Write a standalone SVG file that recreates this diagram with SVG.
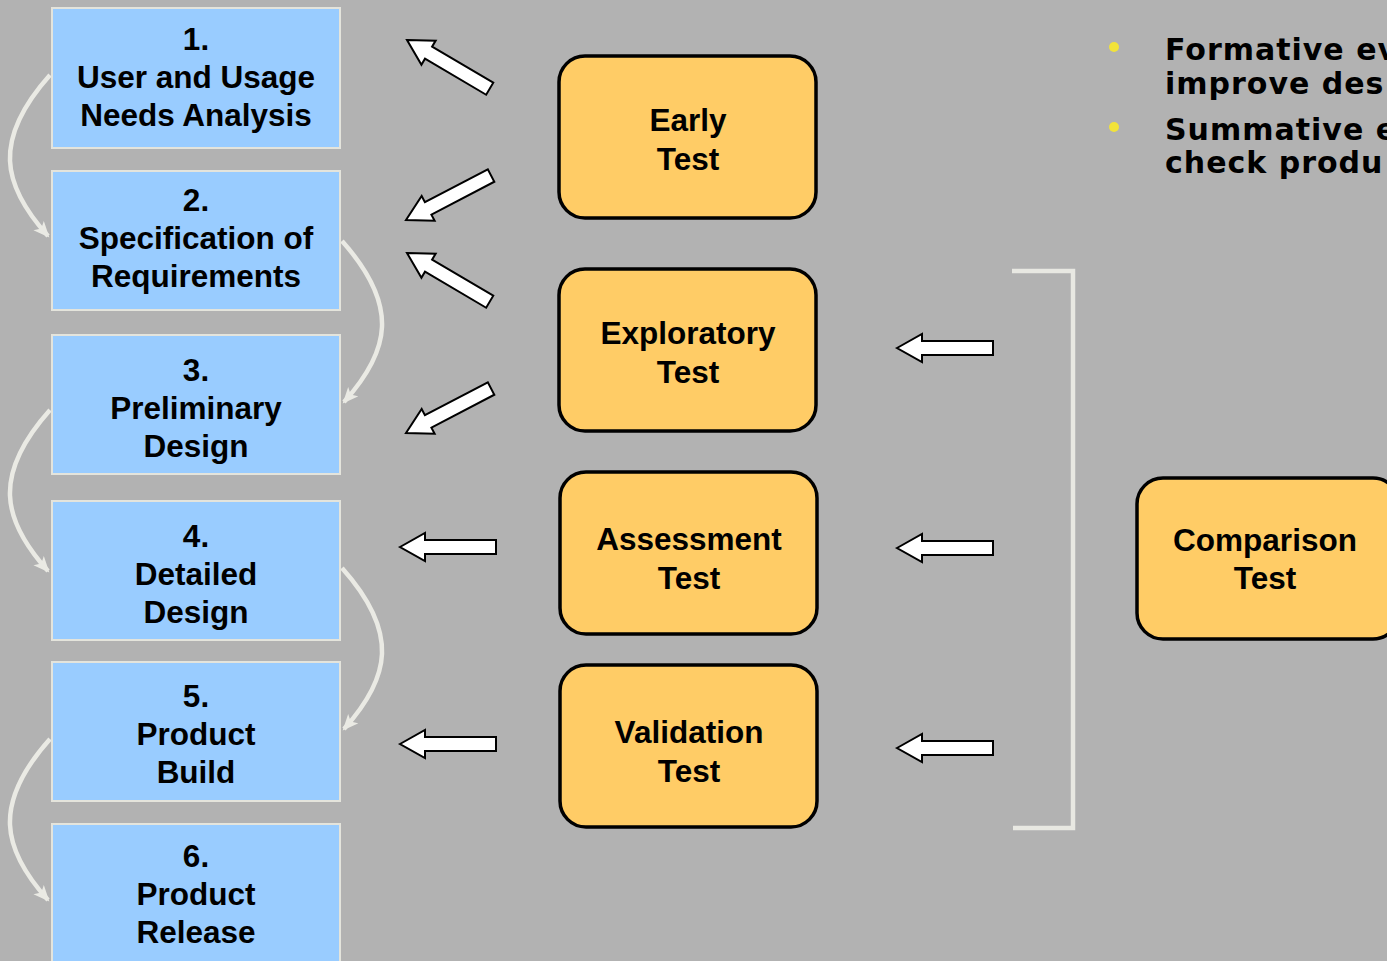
<svg xmlns="http://www.w3.org/2000/svg" width="1387" height="961" viewBox="0 0 1387 961">
<defs>
<style>
.phase{fill:#99CCFF;stroke:#E4E4DC;stroke-width:2}
.test{fill:#FFCC66;stroke:#000;stroke-width:3.5}
.t{font-family:"Liberation Sans",Arial,sans-serif;font-weight:bold;font-size:31.5px;fill:#000;text-anchor:middle}
.b{font-family:"DejaVu Sans",Verdana,sans-serif;font-weight:bold;font-size:30px;letter-spacing:1px;fill:#000}
.flow{fill:none;stroke:#EAEAE4;stroke-width:4.5}
.blk{fill:#fff;stroke:#000;stroke-width:2;stroke-linejoin:miter}
</style>
<marker id="ah" markerWidth="20" markerHeight="16" refX="14" refY="7" orient="auto" markerUnits="userSpaceOnUse">
<path d="M0,0 L16,7 L0,14 L4,7 Z" fill="#EAEAE4"/>
</marker>
<path id="barrow" d="M0,0 L25,-14 L25,-7 L96,-7 L96,7 L25,7 L25,14 Z"/>
</defs>
<rect width="1387" height="961" fill="#B2B2B2"/>

<g id="connectors">
<path class="flow" d="M50,75 C-8,140 2,185 48,236" marker-end="url(#ah)"/>
<path class="flow" d="M342,241 C400,306 390,351 344,402" marker-end="url(#ah)"/>
<path class="flow" d="M50,410 C-8,475 2,520 48,571" marker-end="url(#ah)"/>
<path class="flow" d="M342,568 C400,633 390,678 344,729" marker-end="url(#ah)"/>
<path class="flow" d="M50,739 C-8,804 2,849 48,900" marker-end="url(#ah)"/>
<use href="#barrow" class="blk" transform="translate(407,40) rotate(30.5)"/>
<use href="#barrow" class="blk" transform="translate(406,220) rotate(-27.6)"/>
<use href="#barrow" class="blk" transform="translate(407,253) rotate(30.5)"/>
<use href="#barrow" class="blk" transform="translate(406,433) rotate(-27.6)"/>
<use href="#barrow" class="blk" transform="translate(400,547)"/>
<use href="#barrow" class="blk" transform="translate(400,744)"/>
<use href="#barrow" class="blk" transform="translate(897,348)"/>
<use href="#barrow" class="blk" transform="translate(897,548)"/>
<use href="#barrow" class="blk" transform="translate(897,748)"/>
<path d="M1012,271 L1073,271 L1073,828 L1013,828" fill="none" stroke="#E8E8E2" stroke-width="4.5"/>
</g>

<g id="phase1"><rect class="phase" x="52" y="8" width="288" height="140"/>
<text class="t" x="196" y="50">1.</text><text class="t" x="196" y="88">User and Usage</text><text class="t" x="196" y="126">Needs Analysis</text></g>
<g id="phase2"><rect class="phase" x="52" y="171" width="288" height="139"/>
<text class="t" x="196" y="211">2.</text><text class="t" x="196" y="249">Specification of</text><text class="t" x="196" y="287">Requirements</text></g>
<g id="phase3"><rect class="phase" x="52" y="335" width="288" height="139"/>
<text class="t" x="196" y="381">3.</text><text class="t" x="196" y="419">Preliminary</text><text class="t" x="196" y="457">Design</text></g>
<g id="phase4"><rect class="phase" x="52" y="501" width="288" height="139"/>
<text class="t" x="196" y="547">4.</text><text class="t" x="196" y="585">Detailed</text><text class="t" x="196" y="623">Design</text></g>
<g id="phase5"><rect class="phase" x="52" y="662" width="288" height="139"/>
<text class="t" x="196" y="707">5.</text><text class="t" x="196" y="745">Product</text><text class="t" x="196" y="783">Build</text></g>
<g id="phase6"><rect class="phase" x="52" y="824" width="288" height="150"/>
<text class="t" x="196" y="867">6.</text><text class="t" x="196" y="905">Product</text><text class="t" x="196" y="943">Release</text></g>

<g id="early"><rect class="test" x="559" y="56" width="257" height="162" rx="26"/>
<text class="t" x="688" y="131">Early</text><text class="t" x="688" y="170">Test</text></g>
<g id="exploratory"><rect class="test" x="559" y="269" width="257" height="162" rx="26"/>
<text class="t" x="688" y="344">Exploratory</text><text class="t" x="688" y="383">Test</text></g>
<g id="assessment"><rect class="test" x="560" y="472" width="257" height="162" rx="26"/>
<text class="t" x="689" y="550">Assessment</text><text class="t" x="689" y="589">Test</text></g>
<g id="validation"><rect class="test" x="560" y="665" width="257" height="162" rx="26"/>
<text class="t" x="689" y="743">Validation</text><text class="t" x="689" y="782">Test</text></g>
<g id="comparison"><rect class="test" x="1137" y="478" width="262" height="161" rx="26"/>
<text class="t" x="1265" y="551">Comparison</text><text class="t" x="1265" y="589">Test</text></g>

<g id="bullets">
<circle cx="1114" cy="47" r="5" fill="#F2E33A"/>
<circle cx="1114" cy="127" r="5" fill="#F2E33A"/>
<text class="b" x="1165" y="60">Formative ev</text>
<text class="b" x="1165" y="94">improve des</text>
<text class="b" x="1165" y="140">Summative e</text>
<text class="b" x="1165" y="173">check produ</text>
</g>
</svg>
